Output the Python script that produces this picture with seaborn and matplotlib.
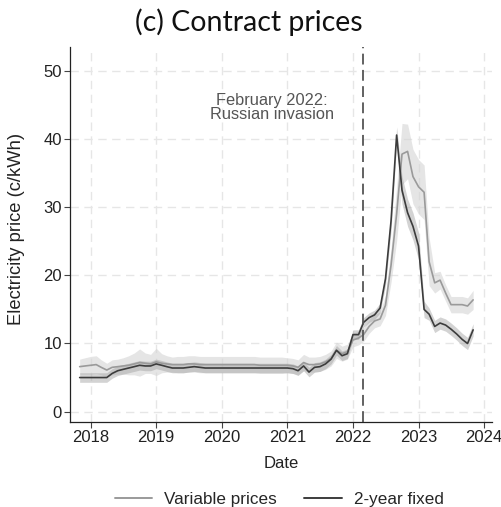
import numpy as np
import pandas as pd
import matplotlib
matplotlib.use("Agg")
import matplotlib.pyplot as plt
import matplotlib.dates as mdates
from matplotlib.lines import Line2D
import seaborn as sns

# Monthly observations, Nov 2017 - Nov 2023
dates = pd.date_range("2017-11-01", periods=73, freq="MS")

variable_price = [
    6.6, 6.7, 6.8, 6.9, 6.5, 6.1,
    6.5, 6.6, 6.7, 6.8, 7.0, 7.2, 7.1, 7.0,
    7.3, 7.1, 7.0, 6.9,
    6.9, 6.9, 7.0, 7.0, 6.9, 6.9, 6.9, 6.9, 6.9, 6.9,
    6.9, 6.9, 6.9, 6.9, 6.9, 6.8, 6.8, 6.8, 6.8, 6.8,
    6.8, 6.7, 6.5, 7.2, 6.9, 6.9, 7.0, 7.3, 7.8, 9.0, 8.5, 8.8,
    10.5, 10.8, 11.3, 12.5, 13.3, 13.6, 15.6, 21.5, 29.0, 37.8, 38.2, 34.5,
    33.0, 32.2, 22.0, 18.9, 19.3, 17.4, 15.7, 15.7, 15.7, 15.5, 16.4,
]
variable_ci = [
    1.1, 1.2, 1.3, 1.3, 1.1, 1.0,
    1.1, 1.1, 1.2, 1.4, 1.6, 2.0, 1.5, 1.4,
    2.0, 1.4, 1.2, 1.1,
    1.2, 1.2, 1.2, 1.2, 1.2, 1.2, 1.2, 1.2, 1.2, 1.2,
    1.2, 1.2, 1.2, 1.2, 1.2, 1.2, 1.2, 1.2, 1.2, 1.2,
    1.1, 1.1, 1.1, 1.2, 1.1, 1.1, 1.1, 1.1, 1.1, 1.2, 1.1, 1.1,
    1.0, 1.0, 1.0, 1.0, 1.0, 1.0, 1.5, 2.5, 4.0, 4.5, 4.0, 4.0,
    4.0, 4.0, 3.5, 1.5, 1.3, 1.2, 1.2, 1.2, 1.2, 1.2, 1.4,
]

fixed_price = [
    5.0, 5.0, 5.0, 5.0, 5.0, 5.0,
    5.6, 6.0, 6.2, 6.4, 6.6, 6.8, 6.7, 6.7,
    7.0, 6.8, 6.6, 6.4,
    6.4, 6.4, 6.5, 6.6, 6.5, 6.4, 6.4, 6.4, 6.4, 6.4,
    6.4, 6.4, 6.4, 6.4, 6.4, 6.4, 6.4, 6.4, 6.4, 6.4,
    6.4, 6.3, 6.0, 6.7, 5.8, 6.5, 6.6, 7.0, 7.7, 9.0, 8.2, 8.5,
    11.3, 11.3, 13.1, 13.8, 14.2, 15.2, 19.5, 28.0, 40.6, 32.5, 29.2, 27.2,
    24.3, 15.0, 14.3, 12.5, 13.0, 12.7, 12.1, 11.4, 10.6, 10.0, 12.0,
]
fixed_ci = [
    0.7] * 56 + [
    1.0, 1.5, 1.2, 2.0, 2.0, 2.0,
    2.0, 1.2, 0.9, 0.9, 0.9, 0.9, 0.9, 0.9, 0.9, 0.9, 0.9,
]

series_names = ["Variable prices", "2-year fixed"]
invasion_date = pd.Timestamp("2022-02-24")
annotation_text = "February 2022:\nRussian invasion"

df = pd.concat([
    pd.DataFrame({"Date": dates, "price": variable_price, "ci": variable_ci,
                  "contract": series_names[0]}),
    pd.DataFrame({"Date": dates, "price": fixed_price, "ci": fixed_ci,
                  "contract": series_names[1]}),
], ignore_index=True)

sns.set_theme(style="white")
plt.rcParams["font.family"] = ["Liberation Sans", "DejaVu Sans"]

line_colors = {series_names[0]: "#9a9a9a", series_names[1]: "#3c3c3c"}
band_colors = {series_names[0]: ("#d4d4d4", 0.6), series_names[1]: ("#9e9e9e", 0.45)}

fig = plt.figure(figsize=(5.01, 5.07), dpi=100)
ax = fig.add_axes([0.14, 0.168, 0.842, 0.739])

# confidence bands
for name in series_names:
    sub = df[df["contract"] == name]
    col, a = band_colors[name]
    ax.fill_between(sub["Date"], sub["price"] - sub["ci"], sub["price"] + sub["ci"],
                    color=col, alpha=a, linewidth=0, zorder=2)

sns.lineplot(data=df, x="Date", y="price", hue="contract", palette=line_colors,
             hue_order=series_names, linewidth=1.2, legend=False, ax=ax, zorder=3)

ax.axvline(invasion_date, color="#555555", linestyle=(0, (6, 3)), linewidth=1.3, zorder=4)
ax.text(pd.Timestamp("2020-10-08"), 44.6, annotation_text, ha="center", va="center",
        fontsize=11.8, color="#555555", linespacing=0.9)

ax.set_xlim(pd.Timestamp("2017-09-09"), pd.Timestamp("2024-02-14"))
ax.set_ylim(-1.5, 53.5)
ax.set_yticks([0, 10, 20, 30, 40, 50])
ax.xaxis.set_major_locator(mdates.YearLocator())
ax.xaxis.set_major_formatter(mdates.DateFormatter("%Y"))

ax.grid(True, color="#e6e6e6", linestyle=(0, (6, 4)), linewidth=1.0)
ax.set_axisbelow(True)
for side in ["top", "right"]:
    ax.spines[side].set_visible(False)
for side in ["left", "bottom"]:
    ax.spines[side].set_color("#222222")
    ax.spines[side].set_linewidth(0.9)
ax.tick_params(axis="both", which="major", direction="out", length=4, width=0.8,
               color="#444444", labelsize=12, labelcolor="#222222", pad=2, left=True, bottom=True)

ax.set_xlabel("Date", fontsize=12, color="#222222", labelpad=8)
ax.set_ylabel("Electricity price (c/kWh)", fontsize=13.2, color="#222222")
ax.yaxis.set_label_coords(-0.108, 0.515)
fig.text(0.497, 0.938, "(c) Contract prices", ha="center", va="baseline", fontsize=20.5,
         family=["Lato", "DejaVu Sans"], color="#111111")

handles = [Line2D([0], [0], color=line_colors[n], linewidth=1.4) for n in series_names]
fig.legend(handles, series_names, loc="lower center", bbox_to_anchor=(0.557, -0.03),
           ncol=2, frameon=False, fontsize=12.3, handlelength=2.2, columnspacing=1.6,
           handletextpad=0.7)

fig.savefig("out.png", dpi=100)
